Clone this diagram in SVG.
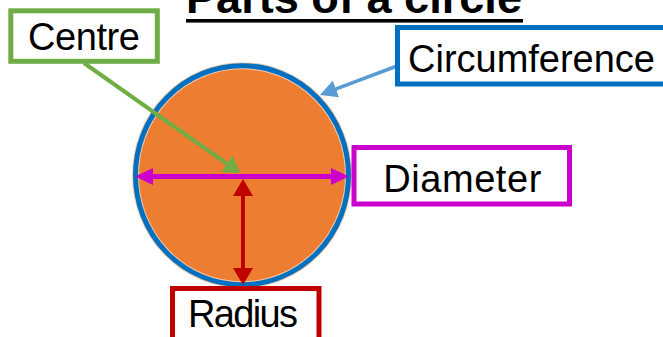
<svg xmlns="http://www.w3.org/2000/svg" width="663" height="337" viewBox="0 0 663 337">
<style>
  .lbl{font-family:"Liberation Sans",Arial,sans-serif;font-size:38px;fill:#000;text-anchor:middle}
  .title{font-family:"Liberation Sans",Arial,sans-serif;font-size:44px;font-weight:bold;fill:#000}
  .box{fill:#fff;stroke-width:5}
  .conn{fill:none}
</style>
<defs>
  <marker id="mGreen" viewBox="0 0 16 20" refX="8" refY="10" markerWidth="16" markerHeight="20" markerUnits="userSpaceOnUse" orient="auto"><path d="M0,0 L16,10 L0,20 z" fill="#70AD47"/></marker>
  <marker id="mBlue" viewBox="0 0 17 18" refX="9" refY="9" markerWidth="17" markerHeight="18" markerUnits="userSpaceOnUse" orient="auto"><path d="M0,0 L17,9 L0,18 z" fill="#5B9BD5"/></marker>
  <marker id="mMag" viewBox="0 0 18 17" refX="10" refY="8.5" markerWidth="18" markerHeight="17" markerUnits="userSpaceOnUse" orient="auto-start-reverse"><path d="M0,0 L18,8.5 L0,17 z" fill="#CC00CC"/></marker>
  <marker id="mRed" viewBox="0 0 17 20" refX="9" refY="10" markerWidth="17" markerHeight="20" markerUnits="userSpaceOnUse" orient="auto-start-reverse"><path d="M0,0 L17,10 L0,20 z" fill="#C00000"/></marker>
</defs>
<rect width="663" height="337" fill="#fff"/>
<g id="title">
  <text class="title" x="186" y="13" textLength="336" lengthAdjust="spacingAndGlyphs">Parts of a circle</text>
  <rect x="186" y="19" width="337" height="3.6" fill="#000"/>
</g>
<g id="circle">
  <ellipse cx="242" cy="175.2" rx="106.5" ry="109.5" fill="#ED7D31" stroke="#F8CBAD" stroke-width="7"/>
  <ellipse cx="242" cy="175.2" rx="106.5" ry="109.5" fill="none" stroke="#0070C0" stroke-width="5"/>
</g>
<g id="connectors">
  <line class="conn" x1="84" y1="63" x2="233.5" y2="168.4" stroke="#70AD47" stroke-width="4" marker-end="url(#mGreen)"/>
  <line class="conn" x1="397" y1="66" x2="327.5" y2="92.1" stroke="#5B9BD5" stroke-width="3.5" marker-end="url(#mBlue)"/>
  <line class="conn" x1="143" y1="176.5" x2="341" y2="176.5" stroke="#CC00CC" stroke-width="5" marker-start="url(#mMag)" marker-end="url(#mMag)"/>
  <line class="conn" x1="243" y1="187" x2="243" y2="277" stroke="#C00000" stroke-width="4" marker-start="url(#mRed)" marker-end="url(#mRed)"/>
</g>
<g id="centre">
  <rect class="box" x="10.8" y="10.8" width="146.5" height="50.5" stroke="#70AD47"/>
  <text class="lbl" x="84" y="50" textLength="112">Centre</text>
</g>
<g id="circumference">
  <rect class="box" x="397.5" y="27.5" width="280" height="56.5" stroke="#0070C0"/>
  <text class="lbl" x="531.5" y="72" textLength="247">Circumference</text>
</g>
<g id="diameter">
  <rect class="box" x="354" y="147.5" width="215.5" height="56.5" stroke="#CC00CC"/>
  <text class="lbl" x="462.3" y="191.5" textLength="158">Diameter</text>
</g>
<g id="radius">
  <rect class="box" x="172.5" y="288.5" width="146.5" height="60" stroke="#C00000"/>
  <text class="lbl" x="243" y="326.5" textLength="110">Radius</text>
</g>
</svg>
